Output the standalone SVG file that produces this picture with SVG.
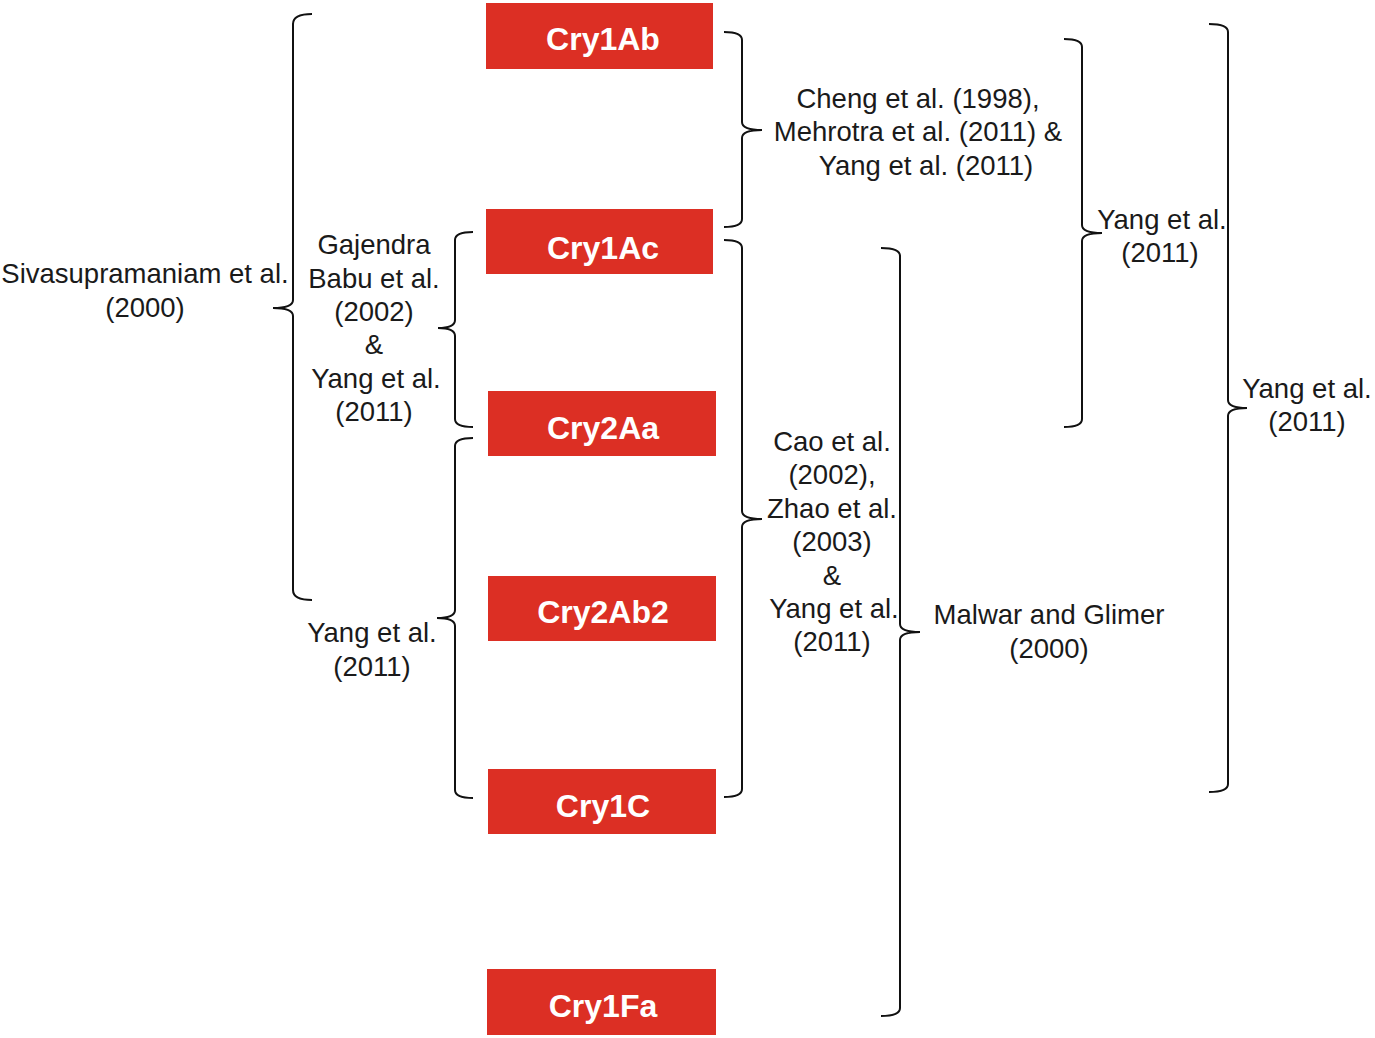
<svg xmlns="http://www.w3.org/2000/svg" width="1375" height="1038" viewBox="0 0 1375 1038">
<style>
.box{fill:#dc2f24;}
.bl{font-family:"Liberation Sans",Arial,sans-serif;font-weight:bold;font-size:32px;fill:#ffffff;text-anchor:middle;}
.t{font-family:"Liberation Sans",Arial,sans-serif;font-size:27.5px;fill:#1a1a1a;text-anchor:middle;}
.br{fill:none;stroke:#111;stroke-width:2;}
</style>
<rect width="1375" height="1038" fill="#ffffff"/>
<g id="connectors">
<path class="br" d="M312,14 Q293,14 293,24 L293,300 Q293,308 273,308 Q293,308 293,316 L293,590 Q293,600 312,600"/>
<path class="br" d="M473,232 Q455,232 455,240 L455,320 Q455,328 438,328 Q455,328 455,336 L455,419 Q455,427 473,427"/>
<path class="br" d="M473,438 Q455,438 455,446 L455,610 Q455,618 437,618 Q455,618 455,626 L455,790 Q455,798 473,798"/>
<path class="br" d="M724,32 Q742,32 742,40 L742,122 Q742,130 762,130 Q742,130 742,138 L742,219 Q742,227 724,227"/>
<path class="br" d="M724,240 Q742,240 742,248 L742,511 Q742,519 762,519 Q742,519 742,527 L742,789 Q742,797 724,797"/>
<path class="br" d="M881,248 Q900,248 900,256 L900,624 Q900,632 920,632 Q900,632 900,640 L900,1008 Q900,1016 881,1016"/>
<path class="br" d="M1064,39 Q1082,39 1082,47 L1082,225 Q1082,233 1102,233 Q1082,233 1082,241 L1082,419 Q1082,427 1064,427"/>
<path class="br" d="M1209,24 Q1228,24 1228,32 L1228,400 Q1228,408 1247,408 Q1228,408 1228,416 L1228,784 Q1228,792 1209,792"/>
</g>
<g id="cry1ab"><rect class="box" x="486" y="3" width="227" height="66"/><text class="bl" x="603" y="50">Cry1Ab</text></g>
<g id="cry1ac"><rect class="box" x="486" y="209" width="227" height="65"/><text class="bl" x="603" y="259">Cry1Ac</text></g>
<g id="cry2aa"><rect class="box" x="488" y="391" width="228" height="65"/><text class="bl" x="603" y="439">Cry2Aa</text></g>
<g id="cry2ab2"><rect class="box" x="488" y="576" width="228" height="65"/><text class="bl" x="603" y="623">Cry2Ab2</text></g>
<g id="cry1c"><rect class="box" x="488" y="769" width="228" height="65"/><text class="bl" x="603" y="817">Cry1C</text></g>
<g id="cry1fa"><rect class="box" x="487" y="969" width="229" height="66"/><text class="bl" x="603" y="1017">Cry1Fa</text></g>
<g id="lbl-siva"><text class="t" x="145" y="283">Sivasupramaniam et al.</text><text class="t" x="145" y="317">(2000)</text></g>
<g id="lbl-gajendra">
<text class="t" x="374" y="254">Gajendra</text>
<text class="t" x="374" y="288">Babu et al.</text>
<text class="t" x="374" y="321">(2002)</text>
<text class="t" x="374" y="354">&amp;</text>
<text class="t" x="376" y="388">Yang et al.</text>
<text class="t" x="374" y="421">(2011)</text>
</g>
<g id="lbl-yang-left"><text class="t" x="372" y="642">Yang et al.</text><text class="t" x="372" y="676">(2011)</text></g>
<g id="lbl-cheng">
<text class="t" x="918" y="108">Cheng et al. (1998),</text>
<text class="t" x="918" y="141">Mehrotra et al. (2011) &amp;</text>
<text class="t" x="926" y="175">Yang et al. (2011)</text>
</g>
<g id="lbl-yang-mid"><text class="t" x="1162" y="229">Yang et al.</text><text class="t" x="1160" y="262">(2011)</text></g>
<g id="lbl-cao">
<text class="t" x="832" y="451">Cao et al.</text>
<text class="t" x="832" y="484">(2002),</text>
<text class="t" x="832" y="518">Zhao et al.</text>
<text class="t" x="832" y="551">(2003)</text>
<text class="t" x="832" y="585">&amp;</text>
<text class="t" x="834" y="618">Yang et al.</text>
<text class="t" x="832" y="651">(2011)</text>
</g>
<g id="lbl-malwar"><text class="t" x="1049" y="624">Malwar and Glimer</text><text class="t" x="1049" y="658">(2000)</text></g>
<g id="lbl-yang-right"><text class="t" x="1307" y="398">Yang et al.</text><text class="t" x="1307" y="431">(2011)</text></g>
</svg>
